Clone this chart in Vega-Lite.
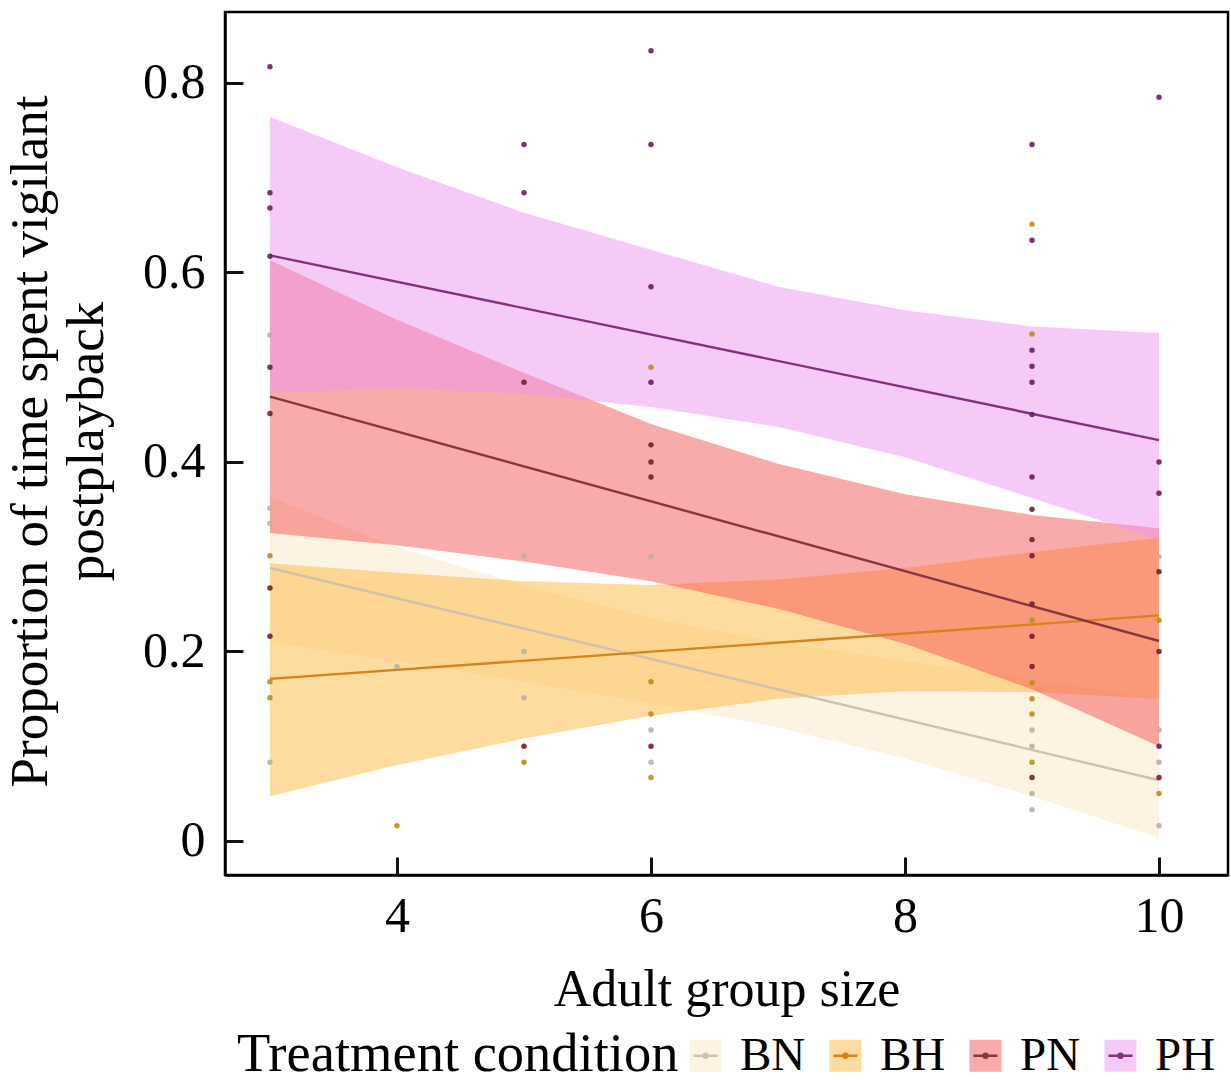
{
  "$schema": "https://vega.github.io/schema/vega-lite/v6.json",
  "width": 1003,
  "height": 863,
  "autosize": {"type": "none"},
  "padding": {"left": 225, "top": 12, "right": 3, "bottom": 207},
  "background": "white",
  "config": {
    "font": "Liberation Serif",
    "view": {"stroke": "black", "strokeWidth": 2.5},
    "axis": {
      "grid": false,
      "domainColor": "black",
      "domainWidth": 2.5,
      "labelColor": "black",
      "labelFontSize": 50,
      "labelFont": "Liberation Serif",
      "titleFont": "Liberation Serif",
      "titleColor": "black",
      "titleFontWeight": "normal",
      "titleFontSize": 52,
      "zindex": 2
    },
    "legend": {
      "labelFont": "Liberation Serif",
      "titleFont": "Liberation Serif"
    }
  },
  "datasets": {
    "bands": [
      {"group": "BN", "x": 3, "lo": 0.21, "hi": 0.363},
      {"group": "BN", "x": 4, "lo": 0.19, "hi": 0.31},
      {"group": "BN", "x": 5, "lo": 0.168, "hi": 0.27},
      {"group": "BN", "x": 6, "lo": 0.145, "hi": 0.235},
      {"group": "BN", "x": 7, "lo": 0.12, "hi": 0.21},
      {"group": "BN", "x": 8, "lo": 0.087, "hi": 0.19},
      {"group": "BN", "x": 9, "lo": 0.047, "hi": 0.17},
      {"group": "BN", "x": 10, "lo": 0.003, "hi": 0.15},
      {"group": "BH", "x": 3, "lo": 0.047, "hi": 0.293},
      {"group": "BH", "x": 4, "lo": 0.08, "hi": 0.283},
      {"group": "BH", "x": 5, "lo": 0.108, "hi": 0.274},
      {"group": "BH", "x": 6, "lo": 0.132, "hi": 0.27},
      {"group": "BH", "x": 7, "lo": 0.15, "hi": 0.276},
      {"group": "BH", "x": 8, "lo": 0.158, "hi": 0.288},
      {"group": "BH", "x": 9, "lo": 0.157, "hi": 0.305},
      {"group": "BH", "x": 10, "lo": 0.15, "hi": 0.32},
      {"group": "PN", "x": 3, "lo": 0.325, "hi": 0.613},
      {"group": "PN", "x": 4, "lo": 0.312, "hi": 0.55},
      {"group": "PN", "x": 5, "lo": 0.295, "hi": 0.494},
      {"group": "PN", "x": 6, "lo": 0.274, "hi": 0.44},
      {"group": "PN", "x": 7, "lo": 0.245, "hi": 0.398},
      {"group": "PN", "x": 8, "lo": 0.208, "hi": 0.366},
      {"group": "PN", "x": 9, "lo": 0.16, "hi": 0.344},
      {"group": "PN", "x": 10, "lo": 0.1, "hi": 0.33},
      {"group": "PH", "x": 3, "lo": 0.473, "hi": 0.764},
      {"group": "PH", "x": 4, "lo": 0.478, "hi": 0.711},
      {"group": "PH", "x": 5, "lo": 0.472, "hi": 0.663},
      {"group": "PH", "x": 6, "lo": 0.458, "hi": 0.624},
      {"group": "PH", "x": 7, "lo": 0.437, "hi": 0.585},
      {"group": "PH", "x": 8, "lo": 0.405, "hi": 0.56},
      {"group": "PH", "x": 9, "lo": 0.362, "hi": 0.543},
      {"group": "PH", "x": 10, "lo": 0.318, "hi": 0.536}
    ],
    "fits": [
      {"group": "BN", "x": 3, "y": 0.288},
      {"group": "BN", "x": 10, "y": 0.064},
      {"group": "BH", "x": 3, "y": 0.171},
      {"group": "BH", "x": 10, "y": 0.238},
      {"group": "PN", "x": 3, "y": 0.469},
      {"group": "PN", "x": 10, "y": 0.211},
      {"group": "PH", "x": 3, "y": 0.618},
      {"group": "PH", "x": 10, "y": 0.423}
    ],
    "obs": [
      {"group": "PH", "x": 3, "y": 0.817},
      {"group": "PH", "x": 3, "y": 0.684},
      {"group": "PH", "x": 3, "y": 0.668},
      {"group": "PH", "x": 3, "y": 0.617},
      {"group": "BN", "x": 3, "y": 0.534},
      {"group": "PN", "x": 3, "y": 0.5},
      {"group": "PN", "x": 3, "y": 0.451},
      {"group": "BN", "x": 3, "y": 0.351},
      {"group": "BN", "x": 3, "y": 0.335},
      {"group": "BH", "x": 3, "y": 0.301},
      {"group": "PN", "x": 3, "y": 0.267},
      {"group": "PN", "x": 3, "y": 0.216},
      {"group": "BH", "x": 3, "y": 0.168},
      {"group": "BH", "x": 3, "y": 0.151},
      {"group": "BN", "x": 3, "y": 0.083},
      {"group": "BN", "x": 4, "y": 0.184},
      {"group": "BH", "x": 4, "y": 0.016},
      {"group": "PH", "x": 5, "y": 0.735},
      {"group": "PH", "x": 5, "y": 0.684},
      {"group": "PN", "x": 5, "y": 0.484},
      {"group": "BN", "x": 5, "y": 0.301},
      {"group": "BN", "x": 5, "y": 0.2},
      {"group": "BN", "x": 5, "y": 0.151},
      {"group": "PN", "x": 5, "y": 0.1},
      {"group": "BH", "x": 5, "y": 0.083},
      {"group": "PH", "x": 6, "y": 0.834},
      {"group": "PH", "x": 6, "y": 0.735},
      {"group": "PH", "x": 6, "y": 0.585},
      {"group": "BH", "x": 6, "y": 0.5},
      {"group": "PH", "x": 6, "y": 0.484},
      {"group": "PN", "x": 6, "y": 0.418},
      {"group": "PN", "x": 6, "y": 0.4},
      {"group": "PN", "x": 6, "y": 0.384},
      {"group": "BN", "x": 6, "y": 0.3},
      {"group": "BH", "x": 6, "y": 0.168},
      {"group": "BH", "x": 6, "y": 0.134},
      {"group": "BN", "x": 6, "y": 0.117},
      {"group": "PN", "x": 6, "y": 0.1},
      {"group": "BN", "x": 6, "y": 0.083},
      {"group": "BH", "x": 6, "y": 0.067},
      {"group": "PH", "x": 9, "y": 0.735},
      {"group": "BH", "x": 9, "y": 0.651},
      {"group": "PH", "x": 9, "y": 0.634},
      {"group": "BH", "x": 9, "y": 0.535},
      {"group": "PH", "x": 9, "y": 0.518},
      {"group": "PH", "x": 9, "y": 0.501},
      {"group": "PH", "x": 9, "y": 0.484},
      {"group": "PH", "x": 9, "y": 0.45},
      {"group": "PH", "x": 9, "y": 0.384},
      {"group": "PN", "x": 9, "y": 0.35},
      {"group": "PN", "x": 9, "y": 0.318},
      {"group": "PN", "x": 9, "y": 0.301},
      {"group": "PN", "x": 9, "y": 0.25},
      {"group": "BH", "x": 9, "y": 0.233},
      {"group": "PN", "x": 9, "y": 0.216},
      {"group": "PN", "x": 9, "y": 0.184},
      {"group": "BH", "x": 9, "y": 0.167},
      {"group": "BH", "x": 9, "y": 0.15},
      {"group": "BH", "x": 9, "y": 0.134},
      {"group": "BN", "x": 9, "y": 0.117},
      {"group": "BN", "x": 9, "y": 0.1},
      {"group": "BH", "x": 9, "y": 0.083},
      {"group": "PN", "x": 9, "y": 0.067},
      {"group": "BN", "x": 9, "y": 0.05},
      {"group": "BN", "x": 9, "y": 0.033},
      {"group": "PH", "x": 10, "y": 0.785},
      {"group": "PH", "x": 10, "y": 0.4},
      {"group": "PH", "x": 10, "y": 0.367},
      {"group": "BN", "x": 10, "y": 0.3},
      {"group": "PN", "x": 10, "y": 0.284},
      {"group": "BH", "x": 10, "y": 0.233},
      {"group": "PN", "x": 10, "y": 0.2},
      {"group": "BN", "x": 10, "y": 0.117},
      {"group": "PH", "x": 10, "y": 0.1},
      {"group": "BN", "x": 10, "y": 0.083},
      {"group": "PN", "x": 10, "y": 0.067},
      {"group": "BH", "x": 10, "y": 0.05},
      {"group": "BN", "x": 10, "y": 0.016}
    ]
  },
  "layer": [
    {
      "data": {"name": "bands"},
      "transform": [{"filter": "datum.group === 'BN'"}],
      "mark": {"type": "area", "opacity": 0.5},
      "encoding": {
        "x": {
          "field": "x",
          "type": "quantitative",
          "scale": {"domain": [2.646, 10.543], "nice": false, "zero": false},
          "axis": {
            "orient": "bottom",
            "values": [4, 6, 8, 10],
            "format": "d",
            "ticks": true,
            "tickSize": -16,
            "tickColor": "black",
            "tickWidth": 2.5,
            "labelPadding": 72,
            "labelBaseline": "alphabetic",
            "title": "Adult group size",
            "titleBaseline": "alphabetic",
            "titleY": 130
          }
        },
        "y": {
          "field": "lo",
          "type": "quantitative",
          "scale": {"domain": [-0.036, 0.8749], "nice": false, "zero": false},
          "axis": {
            "orient": "left",
            "values": [0, 0.2, 0.4, 0.6, 0.8],
            "format": "~g",
            "ticks": true,
            "tickSize": -16,
            "tickColor": "black",
            "tickWidth": 2.5,
            "labelPadding": 36,
            "title": ["Proportion of time spent vigilant", "postplayback"],
            "titleFontSize": 53,
            "titleAngle": 270,
            "titleAlign": "center",
            "titleBaseline": "alphabetic",
            "titleLineHeight": 56,
            "titleX": -179,
            "titleY": 429
          }
        },
        "y2": {"field": "hi"},
        "fill": {"field": "group", "type": "nominal"}
      }
    },
    {
      "data": {"name": "bands"},
      "transform": [{"filter": "datum.group === 'BH'"}],
      "mark": {"type": "area", "opacity": 0.5},
      "encoding": {
        "x": {"field": "x", "type": "quantitative", "axis": null},
        "y": {"field": "lo", "type": "quantitative", "axis": null},
        "y2": {"field": "hi"},
        "fill": {"field": "group", "type": "nominal"}
      }
    },
    {
      "data": {"name": "bands"},
      "transform": [{"filter": "datum.group === 'PN'"}],
      "mark": {"type": "area", "opacity": 0.5},
      "encoding": {
        "x": {"field": "x", "type": "quantitative", "axis": null},
        "y": {"field": "lo", "type": "quantitative", "axis": null},
        "y2": {"field": "hi"},
        "fill": {"field": "group", "type": "nominal"}
      }
    },
    {
      "data": {"name": "bands"},
      "transform": [{"filter": "datum.group === 'PH'"}],
      "mark": {"type": "area", "opacity": 0.5},
      "encoding": {
        "x": {"field": "x", "type": "quantitative", "axis": null},
        "y": {"field": "lo", "type": "quantitative", "axis": null},
        "y2": {"field": "hi"},
        "fill": {
          "field": "group",
          "type": "nominal",
          "scale": {"domain": ["BN", "BH", "PN", "PH"], "range": ["#F9E7C7", "#FDB93F", "#F35555", "#ED95ED"]},
          "legend": {
            "orient": "none",
            "legendX": 12,
            "legendY": 1020,
            "direction": "horizontal",
            "title": "Treatment condition",
            "titleLimit": 1000,
            "titleOrient": "left",
            "titleFontSize": 54.5,
            "titleFontWeight": "normal",
            "titleColor": "black",
            "titleBaseline": "middle",
            "titleAnchor": "middle",
            "titlePadding": 3,
            "labelFontSize": 47,
            "labelLimit": 300,
            "labelColor": "black",
            "labelOffset": 11,
            "columnPadding": 16,
            "symbolType": "square",
            "symbolSize": 1024,
            "symbolStrokeWidth": 0
          }
        }
      }
    },
    {
      "data": {"name": "fits"},
      "mark": {"type": "line", "strokeWidth": 2.4},
      "encoding": {
        "x": {"field": "x", "type": "quantitative", "axis": null},
        "y": {"field": "y", "type": "quantitative", "axis": null},
        "stroke": {
          "field": "group",
          "type": "nominal",
          "sort": ["BN", "BH", "PN", "PH"],
          "scale": {"range": ["#CFC2AC", "#D8821E", "#8A3540", "#85317A"]},
          "legend": {
            "orient": "none",
            "legendX": 12,
            "legendY": 1020,
            "direction": "horizontal",
            "title": "Treatment condition",
            "titleLimit": 1000,
            "titleOrient": "left",
            "titleFontSize": 54.5,
            "titleFontWeight": "normal",
            "titleOpacity": 0,
            "titleBaseline": "middle",
            "titleAnchor": "middle",
            "titlePadding": 3,
            "labelFontSize": 47,
            "labelLimit": 300,
            "labelOpacity": 0,
            "labelOffset": 11,
            "columnPadding": 16,
            "symbolType": "M-0.75,0L0.75,0M-0.12,0A0.12,0.12,0,1,1,0.12,0A0.12,0.12,0,1,1,-0.12,0",
            "symbolSize": 1024,
            "symbolStrokeWidth": 2.5
          }
        }
      }
    },
    {
      "data": {"name": "obs"},
      "mark": {"type": "point", "filled": true, "size": 30, "opacity": 0.9},
      "encoding": {
        "x": {
          "field": "x",
          "type": "quantitative",
          "axis": {
            "orient": "top",
            "offset": -863,
            "values": [4, 6, 8, 10],
            "labels": false,
            "domain": false,
            "ticks": true,
            "tickSize": 18,
            "tickColor": "#111111",
            "tickWidth": 3,
            "title": null
          }
        },
        "y": {
          "field": "y",
          "type": "quantitative",
          "axis": {
            "orient": "right",
            "offset": -1003,
            "values": [0, 0.2, 0.4, 0.6, 0.8],
            "labels": false,
            "domain": false,
            "ticks": true,
            "tickSize": 18,
            "tickColor": "#111111",
            "tickWidth": 3,
            "title": null
          }
        },
        "color": {
          "field": "group",
          "type": "nominal",
          "scale": {"domain": ["BN", "BH", "PN", "PH"], "range": ["#BDB0A5", "#BE8E10", "#74202E", "#6A1F5E"]},
          "legend": null
        }
      }
    }
  ]
}
